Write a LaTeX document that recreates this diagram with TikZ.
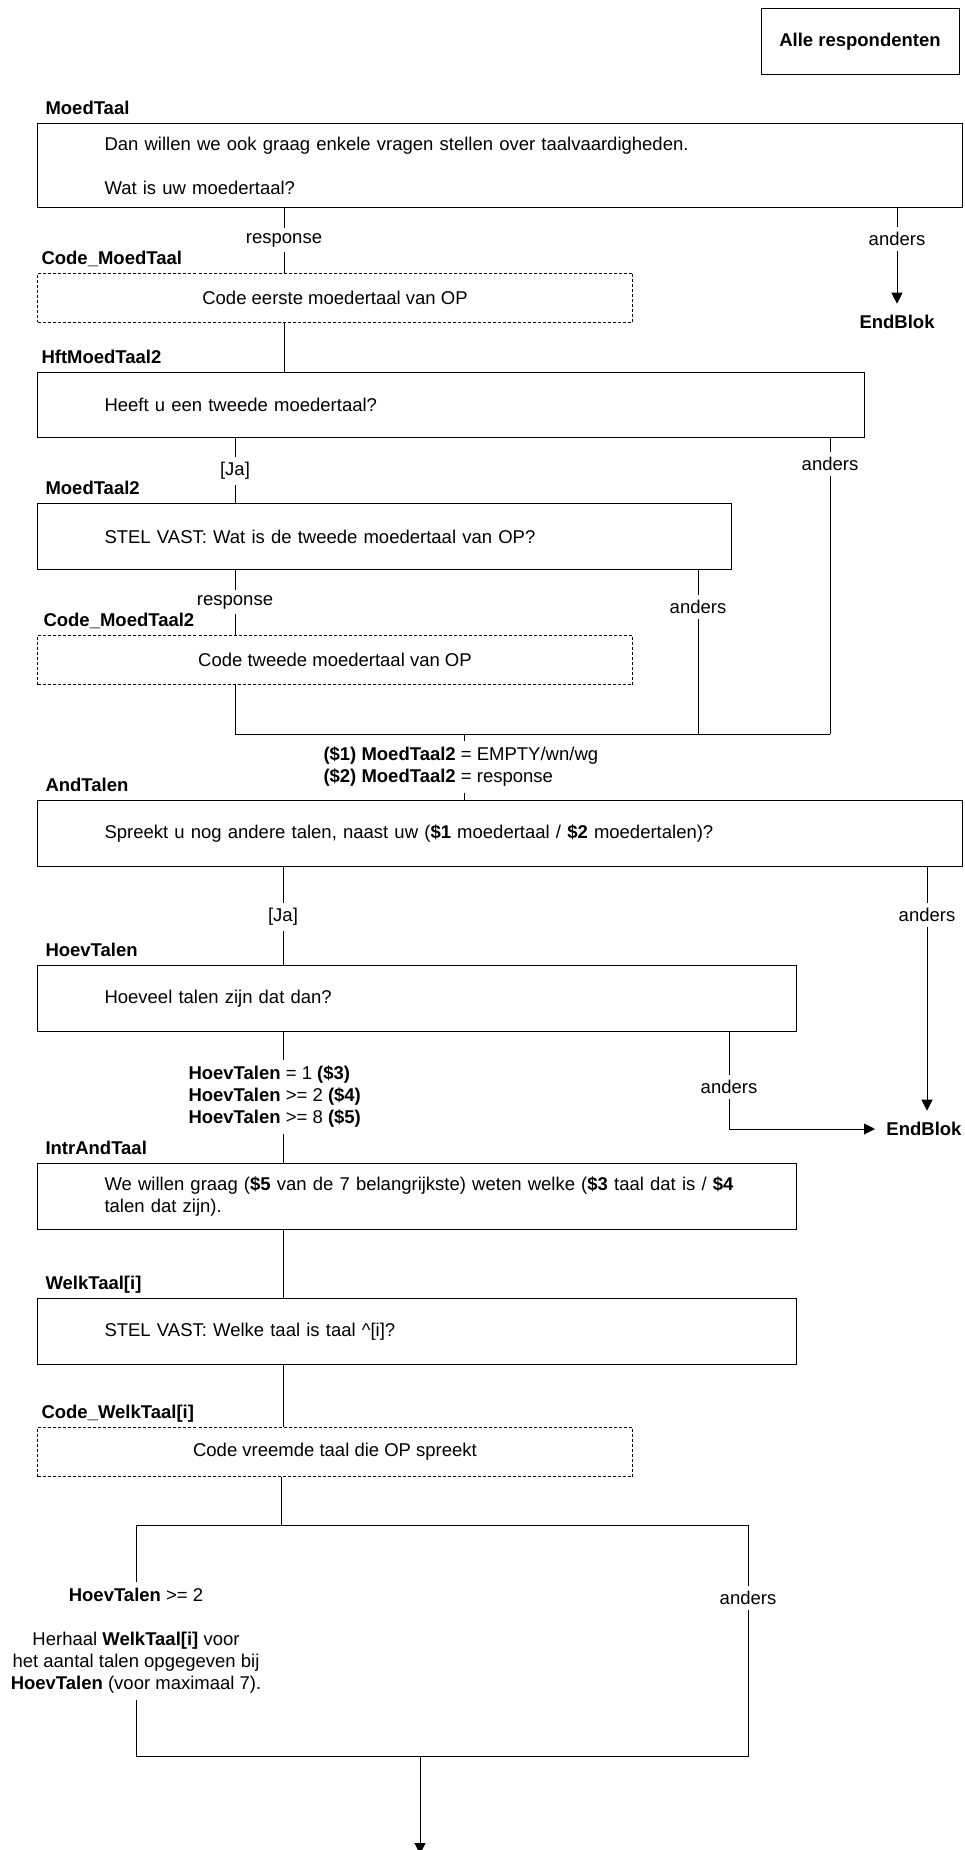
\documentclass[tikz,border=0pt]{standalone}
\usepackage{fontspec}
\setmainfont{Liberation Sans}
\usepackage{tikz}
\usetikzlibrary{arrows.meta, positioning}
\newcommand{\diafont}{\fontsize{9.25}{11}\selectfont}

\begin{document}
\begin{tikzpicture}[
    x=0.5pt, y=-0.5pt,
    line width=0.5pt,
    qbox/.style={rectangle, draw, anchor=north west, align=left, inner xsep=33.5pt, inner ysep=0pt, minimum height=33pt, font=\diafont},
    codebox/.style={rectangle, draw, dash pattern=on 1.5pt off 1pt, anchor=north west, align=center, minimum width=297.5pt, minimum height=24.5pt, font=\diafont},
    startbox/.style={rectangle, draw, minimum width=99pt, minimum height=33pt, font=\diafont\bfseries},
    title/.style={inner sep=0pt, text depth=0pt, font=\diafont\bfseries},
    lbl/.style={inner xsep=1pt, inner ysep=2.4pt, font=\diafont},
    cond/.style={align=left, inner sep=3pt, font=\diafont},
    endnode/.style={inner sep=5.5pt, font=\diafont\bfseries},
    arrow/.style={-{Triangle[width=5.5pt,length=5.5pt]}}
]
\useasboundingbox (0,0) rectangle (964,1850);

\node[startbox] (alle) at (860,42) {Alle respondenten};

% MoedTaal
\node[qbox, text width=395.5pt, minimum height=42pt] (moedtaal) at (37,123) {Dan willen we ook graag enkele vragen stellen over taalvaardigheden.\\[11pt]Wat is uw moedertaal?};
\node[title, above right=4pt and 4pt of moedtaal.north west] {MoedTaal};
\node[lbl] (resp1) at (284,240) {response};
\node[lbl] (anders1) at (897,239) {anders};
\node[endnode] (end1) at (897,322) {EndBlok};
\draw (moedtaal.south -| resp1) -- (resp1);
\draw (moedtaal.south -| anders1) -- (anders1);
\draw[arrow] (anders1) -- (end1);

% Code_MoedTaal
\node[codebox] (codemoed) at (37,273) {Code eerste moedertaal van OP};
\node[title, above right=4pt and 2pt of codemoed.north west] {Code\_MoedTaal};
\draw (resp1) -- (codemoed.north -| resp1);

% HftMoedTaal2
\node[qbox, text width=346.5pt, minimum height=32.5pt] (hft) at (37,372) {Heeft u een tweede moedertaal?};
\node[title, above right=4pt and 2pt of hft.north west] {HftMoedTaal2};
\draw (codemoed.south -| resp1) -- (hft.north -| resp1);
\node[lbl] (ja1) at (235,471) {[Ja]};
\node[lbl] (anders2) at (830,464) {anders};
\draw (hft.south -| ja1) -- (ja1);
\draw (hft.south -| anders2) -- (anders2);

% MoedTaal2
\node[qbox, text width=280pt] (moed2) at (37,503) {STEL VAST: Wat is de tweede moedertaal van OP?};
\node[title, above right=4pt and 4pt of moed2.north west] {MoedTaal2};
\draw (ja1) -- (moed2.north -| ja1);
\node[lbl] (resp2) at (235,602) {response};
\node[lbl] (anders3) at (698,607) {anders};
\draw (moed2.south -| resp2) -- (resp2);
\draw (moed2.south -| anders3) -- (anders3);

% Code_MoedTaal2
\node[codebox] (codemoed2) at (37,635) {Code tweede moedertaal van OP};
\node[title, above right=4pt and 3pt of codemoed2.north west] {Code\_MoedTaal2};
\draw (resp2) -- (codemoed2.north -| resp2);

\coordinate (join) at (464,734);
\draw (codemoed2.south -| resp2) |- (anders2 |- join);
\draw (anders2) -- (anders2 |- join);
\draw (anders3) -- (anders3 |- join);
\node[cond, anchor=west] (cond1) at (317,767) {\textbf{(\$1) MoedTaal2} = EMPTY/wn/wg\\\textbf{(\$2) MoedTaal2} = response};

% AndTalen
\node[qbox, text width=395.5pt] (andtalen) at (37,800) {Spreekt u nog andere talen, naast uw (\textbf{\$1} moedertaal / \textbf{\$2} moedertalen)?};
\node[title, above right=4pt and 4pt of andtalen.north west] {AndTalen};
\draw (join) -- (join |- cond1.north);
\draw (join |- cond1.south) -- (andtalen.north -| join);
\node[lbl] (ja2) at (283,917) {[Ja]};
\node[lbl] (anders4) at (927,915) {anders};
\node[endnode] (end2) at (924,1129) {EndBlok};
\draw (andtalen.south -| ja2) -- (ja2);
\draw (andtalen.south -| anders4) -- (anders4);
\draw[arrow] (anders4) -- (anders4 |- end2.north);

% HoevTalen
\node[qbox, text width=312.5pt] (hoev) at (37,965) {Hoeveel talen zijn dat dan?};
\node[title, above right=4pt and 4pt of hoev.north west] {HoevTalen};
\draw (ja2) -- (hoev.north -| ja2);
\node[cond, anchor=west] (cond2) at (182,1097) {\textbf{HoevTalen} = 1 \textbf{(\$3)}\\\textbf{HoevTalen} >= 2 \textbf{(\$4)}\\\textbf{HoevTalen} >= 8 \textbf{(\$5)}};
\node[lbl] (anders5) at (729,1087) {anders};
\draw (hoev.south -| anders5) -- (anders5);
\draw[arrow] (anders5) |- (end2);

% IntrAndTaal
\node[qbox, text width=312.5pt] (intr) at (37,1163) {\mbox{We willen graag (\textbf{\$5} van de 7 belangrijkste) weten welke (\textbf{\$3} taal dat is / \textbf{\$4}}\\talen dat zijn).};
\node[title, above right=4pt and 4pt of intr.north west] {IntrAndTaal};
\draw (hoev.south -| ja2) -- (ja2 |- cond2.north);
\draw (ja2 |- cond2.south) -- (intr.north -| ja2);

% WelkTaal[i]
\node[qbox, text width=312.5pt] (welk) at (37,1298) {STEL VAST: Welke taal is taal \textasciicircum[i]?};
\node[title, above right=4pt and 4pt of welk.north west] {WelkTaal[i]};
\draw (intr.south -| ja2) -- (welk.north -| ja2);

% Code_WelkTaal[i]
\node[codebox] (codewelk) at (37,1427) {Code vreemde taal die OP spreekt};
\node[title, above right=4pt and 2pt of codewelk.north west] {Code\_WelkTaal[i]};
\draw (welk.south -| ja2) -- (codewelk.north -| ja2);

% herhaling
\coordinate (looptop) at (281,1525);
\coordinate (loopexit) at (420,1756);
\coordinate (out) at (420,1854);
\node[cond, align=center] (rep) at (136,1641) {\textbf{HoevTalen} >= 2\\[11pt]Herhaal \textbf{WelkTaal[i]} voor\\het aantal talen opgegeven bij\\\textbf{HoevTalen} (voor maximaal 7).};
\node[lbl] (anders6) at (748,1598) {anders};
\draw (codewelk.south -| looptop) -- (looptop);
\draw (rep) |- (looptop) -| (anders6);
\draw (rep) |- (loopexit) -| (anders6);
\draw[arrow] (loopexit) -- (out);
\end{tikzpicture}
\end{document}
